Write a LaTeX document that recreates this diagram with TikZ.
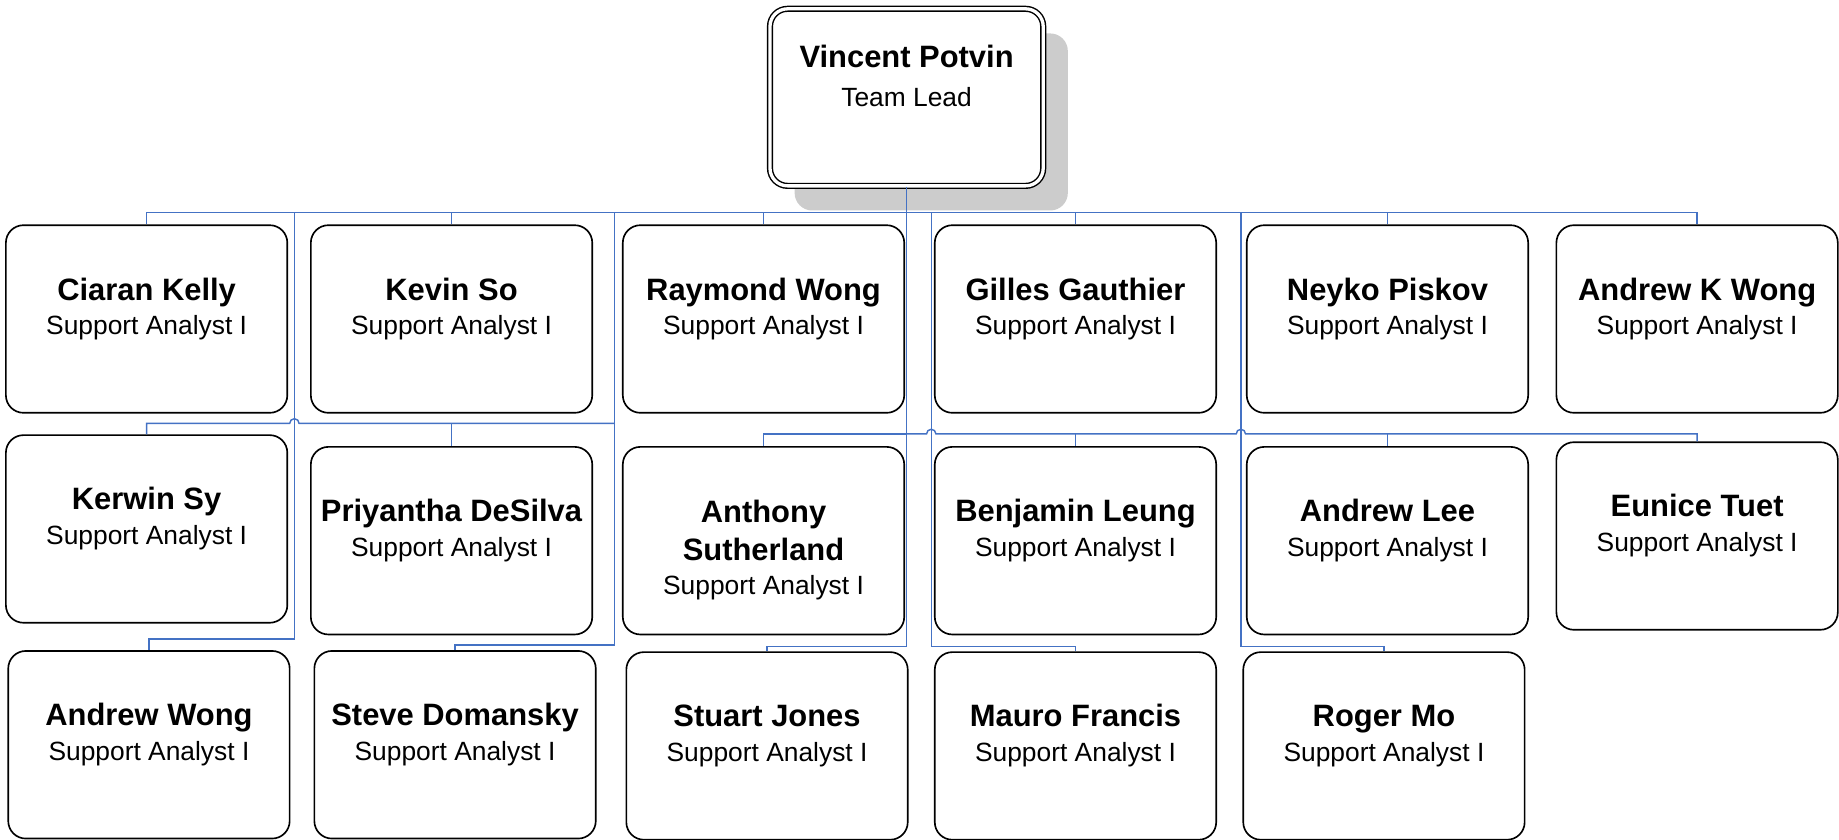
\documentclass[tikz,border=0pt]{standalone}
\usepackage{fontspec}
\setmainfont{Liberation Sans}
\usetikzlibrary{calc,shadows}
\definecolor{linkblue}{HTML}{4472C4}
\begin{document}
\begin{tikzpicture}[x=0.02cm,y=-0.02cm,
    card/.style={draw,line width=0.8pt,rounded corners=0.3cm,fill=white,
      minimum width=4.8cm,minimum height=3.2cm,inner sep=0pt},
    lead/.style={draw,double,double distance=1.6pt,line width=0.7pt,
      rounded corners=0.3cm,fill=white,minimum width=4.66cm,minimum height=3.02cm,
      inner sep=0pt,drop shadow={shadow xshift=0.42cm,shadow yshift=-0.42cm,
      fill=black!20,opacity=1}},
    nm/.style={anchor=base,inner sep=0pt,font=\fontsize{15}{18}\selectfont\bfseries},
    tl/.style={anchor=base,inner sep=0pt,font=\fontsize{12.8}{15}\selectfont},
    link/.style={draw=linkblue,line width=0.7pt}]
  \useasboundingbox (0,0) rectangle (1568,716);

  % team lead
  \node[lead] (vp) at (773,83) {};
  \node[nm] (vp-n) at ([yshift=-1.02cm]vp.north) {Vincent Potvin};
  \node[tl] (vp-t) at ([yshift=-1.67cm]vp.north) {Team Lead};

  % first row
  \node[card] (ck) at (125,272) {};
  \node[nm] (ck-n) at ([yshift=-1.29cm]ck.north) {Ciaran Kelly};
  \node[tl] (ck-t) at ([yshift=-1.88cm]ck.north) {Support Analyst I};
  \node[card] (ks) at (385,272) {};
  \node[nm] (ks-n) at ([yshift=-1.29cm]ks.north) {Kevin So};
  \node[tl] (ks-t) at ([yshift=-1.88cm]ks.north) {Support Analyst I};
  \node[card] (rw) at (651,272) {};
  \node[nm] (rw-n) at ([yshift=-1.29cm]rw.north) {Raymond Wong};
  \node[tl] (rw-t) at ([yshift=-1.88cm]rw.north) {Support Analyst I};
  \node[card] (gg) at (917,272) {};
  \node[nm] (gg-n) at ([yshift=-1.29cm]gg.north) {Gilles Gauthier};
  \node[tl] (gg-t) at ([yshift=-1.88cm]gg.north) {Support Analyst I};
  \node[card] (np) at (1183,272) {};
  \node[nm] (np-n) at ([yshift=-1.29cm]np.north) {Neyko Piskov};
  \node[tl] (np-t) at ([yshift=-1.88cm]np.north) {Support Analyst I};
  \node[card] (akw) at (1447,272) {};
  \node[nm] (akw-n) at ([yshift=-1.29cm]akw.north) {Andrew K Wong};
  \node[tl] (akw-t) at ([yshift=-1.88cm]akw.north) {Support Analyst I};

  % second row
  \node[card] (ky) at (125,451) {};
  \node[nm] (ky-n) at ([yshift=-1.29cm]ky.north) {Kerwin Sy};
  \node[tl] (ky-t) at ([yshift=-1.88cm]ky.north) {Support Analyst I};
  \node[card] (pd) at (385,461) {};
  \node[nm] (pd-n) at ([yshift=-1.29cm]pd.north) {Priyantha DeSilva};
  \node[tl] (pd-t) at ([yshift=-1.88cm]pd.north) {Support Analyst I};
  \node[card] (as) at (651,461) {};
  \node[nm] (as-n) at ([yshift=-1.31cm]as.north) {Anthony};
  \node[nm] (as-m) at ([yshift=-1.95cm]as.north) {Sutherland};
  \node[tl] (as-t) at ([yshift=-2.54cm]as.north) {Support Analyst I};
  \node[card] (bl) at (917,461) {};
  \node[nm] (bl-n) at ([yshift=-1.29cm]bl.north) {Benjamin Leung};
  \node[tl] (bl-t) at ([yshift=-1.88cm]bl.north) {Support Analyst I};
  \node[card] (al) at (1183,461) {};
  \node[nm] (al-n) at ([yshift=-1.29cm]al.north) {Andrew Lee};
  \node[tl] (al-t) at ([yshift=-1.88cm]al.north) {Support Analyst I};
  \node[card] (et) at (1447,457) {};
  \node[nm] (et-n) at ([yshift=-1.29cm]et.north) {Eunice Tuet};
  \node[tl] (et-t) at ([yshift=-1.88cm]et.north) {Support Analyst I};

  % third row
  \node[card] (aw) at (127,635) {};
  \node[nm] (aw-n) at ([yshift=-1.29cm]aw.north) {Andrew Wong};
  \node[tl] (aw-t) at ([yshift=-1.88cm]aw.north) {Support Analyst I};
  \node[card] (sd) at (388,635) {};
  \node[nm] (sd-n) at ([yshift=-1.29cm]sd.north) {Steve Domansky};
  \node[tl] (sd-t) at ([yshift=-1.88cm]sd.north) {Support Analyst I};
  \node[card] (sj) at (654,636) {};
  \node[nm] (sj-n) at ([yshift=-1.29cm]sj.north) {Stuart Jones};
  \node[tl] (sj-t) at ([yshift=-1.88cm]sj.north) {Support Analyst I};
  \node[card] (mf) at (917,636) {};
  \node[nm] (mf-n) at ([yshift=-1.29cm]mf.north) {Mauro Francis};
  \node[tl] (mf-t) at ([yshift=-1.88cm]mf.north) {Support Analyst I};
  \node[card] (rm) at (1180,636) {};
  \node[nm] (rm-n) at ([yshift=-1.29cm]rm.north) {Roger Mo};
  \node[tl] (rm-t) at ([yshift=-1.88cm]rm.north) {Support Analyst I};

  % connectors
  \coordinate (bus) at (773,181);
  \coordinate (j1) at (251,545);
  \coordinate (j2) at (524,550);
  \coordinate (j3) at (524,361);
  \coordinate (j4) at (773,551);
  \coordinate (j5) at (773,370);
  \coordinate (j6) at (794,551);
  \coordinate (j7) at (1058,551);
  \draw[link] (vp.south) -- (bus);
  \foreach \n in {ck,ks,rw,gg,np,akw}
    \draw[link] (bus) -| (\n.north);
  \draw[link] (bus -| j1) -- (j1) -| (aw.north);
  \draw[link] (bus -| j2) -- (j2) -| (sd.north);
  \draw[link] (j3) -- ($(j3 -| j1)+(4,0)$) arc[start angle=0,end angle=-180,radius=4]
    -- (j3 -| ky.north) -- (ky.north);
  \draw[link] (j3 -| pd.north) -- (pd.north);
  \draw[link] (bus) -- (j4) -| (sj.north);
  \draw[link] (j5) -| (as.north);
  \draw[link] (j5) -- ($(j5 -| j6)-(4,0)$) arc[start angle=180,end angle=360,radius=4]
    -- ($(j5 -| j7)-(4,0)$) arc[start angle=180,end angle=360,radius=4]
    -- (j5 -| et.north) -- (et.north);
  \draw[link] (j5 -| bl.north) -- (bl.north);
  \draw[link] (j5 -| al.north) -- (al.north);
  \draw[link] (bus -| j6) -- (j6) -| (mf.north);
  \draw[link] (bus -| j7) -- (j7) -| (rm.north);
\end{tikzpicture}
\end{document}
